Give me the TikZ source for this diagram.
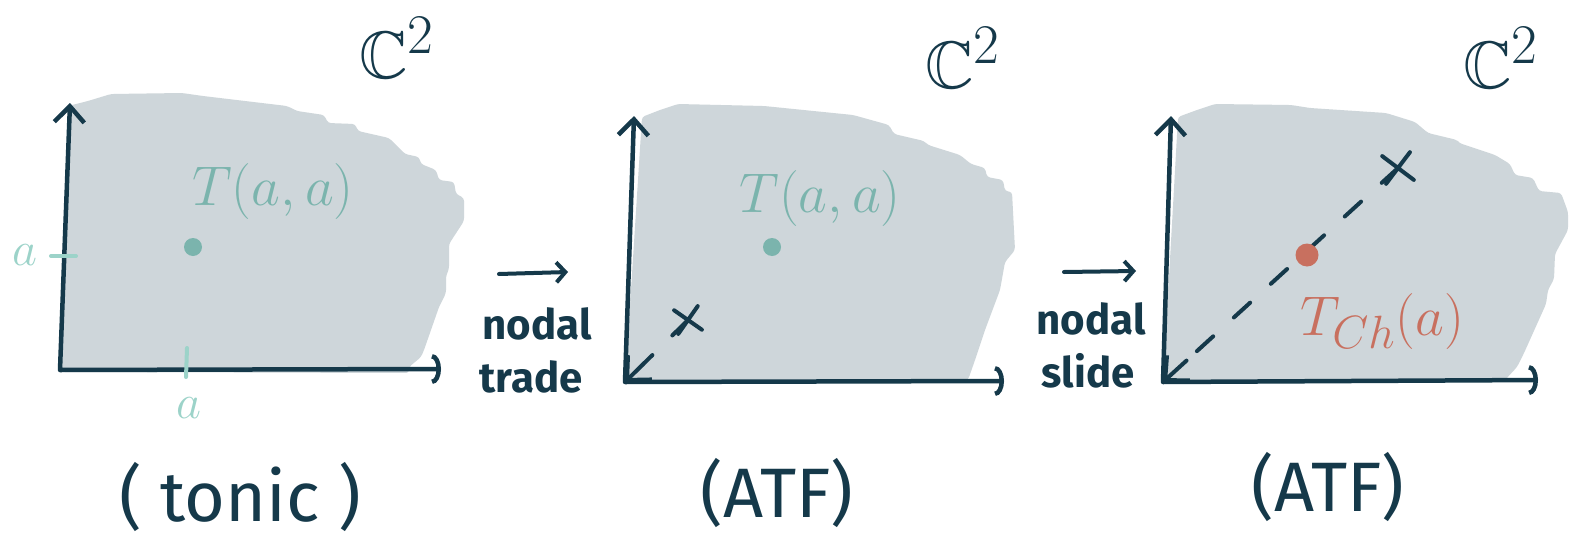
\documentclass[tikz,border=0pt]{standalone}
\usepackage{amssymb}
\usepackage{fontspec}
\setmainfont{Fira Sans}
\usetikzlibrary{arrows.meta,shapes.misc}
\definecolor{navy}{HTML}{15394A}
\definecolor{blobgrey}{HTML}{CED6DA}
\definecolor{tealtext}{HTML}{7BB4AD}
\definecolor{lightteal}{HTML}{9CD3C9}
\definecolor{redpt}{HTML}{C8705F}
\newcommand{\bigmath}[2]{\scalebox{#1}{\Huge$#2$}}
\begin{document}
\begin{tikzpicture}[x=1pt,y=-1pt,
  blob/.style={fill=blobgrey,draw=none,rounded corners=3pt},
  axis/.style={draw=navy,line width=4.5pt,line cap=round,line join=round,
    {Straight Barb[length=16pt,width=30pt]}-{Arc Barb[length=9pt,width=30pt]}},
  maparrow/.style={draw=navy,line width=4pt,line cap=round,-{Straight Barb[length=9pt,width=20pt]}},
  dashline/.style={draw=navy,line width=4pt,line cap=round,dash pattern=on 22pt off 28pt},
  tipline/.style={draw=navy,line width=4pt,line cap=round,-{Straight Barb[length=18pt,width=34pt]}},
  xmark/.style={draw=navy,cross out,line width=4pt,minimum size=20pt,inner sep=0pt,line cap=round},
  tealmath/.style={text=tealtext,inner sep=0pt},
  ticklabel/.style={text=lightteal,inner sep=0pt},
  tick/.style={draw=lightteal,line width=4pt,line cap=round},
  tdot/.style={circle,fill=tealtext,minimum size=18pt,inner sep=0pt},
  handword/.style={text=navy,inner sep=0pt,font=\fontsize{42}{44}\selectfont\bfseries},
  biglabel/.style={text=navy,inner sep=0pt,font=\fontsize{70}{72}\selectfont},
  cspace/.style={text=navy,inner sep=0pt}
]
\useasboundingbox[fill=white] (0,0) rectangle (1571,554);

% ---------- grey regions ----------
\fill[blob] (62,372) -- (68,106) -- (88,101) -- (111,94) -- (182,93) -- (203,96) -- (287,106)
  -- (297,111) -- (324,115) -- (328,123) -- (355,124) -- (358,131) -- (389,138) -- (405,154)
  -- (419,157) -- (421,164) -- (436,170) -- (439,180) -- (454,182) -- (456,194) -- (464,198)
  -- (464,221) -- (449,244) -- (449,269) -- (446,276) -- (446,293) -- (439,307) -- (424,350)
  -- (421,357) -- (409,367) -- (409,373) -- cycle;
\fill[blob] (625,384) -- (642,117) -- (660,110) -- (678,104) -- (764,106) -- (853,115) -- (889,125)
  -- (894,134) -- (924,141) -- (928,145) -- (960,155) -- (971,164) -- (985,168) -- (987,177)
  -- (1003,180) -- (1005,191) -- (1012,192) -- (1015,250) -- (1005,262) -- (1000,290)
  -- (985,330) -- (975,360) -- (968,380) -- cycle;
\fill[blob] (1163,384) -- (1178,117) -- (1197,110) -- (1215,104) -- (1291,105) -- (1310,108)
  -- (1386,113) -- (1415,122) -- (1428,133) -- (1457,140) -- (1459,143) -- (1495,155)
  -- (1510,164) -- (1515,175) -- (1533,178) -- (1539,191) -- (1561,193) -- (1568,212)
  -- (1568,230) -- (1555,254) -- (1554,279) -- (1548,290) -- (1546,304) -- (1524,353)
  -- (1517,367) -- (1505,380) -- cycle;

% ---------- panel 1 (toric) ----------
\coordinate (o1) at (60,370);
\coordinate (y1) at (70,103);
\coordinate (x1) at (441,369);
\draw[axis] (y1) -- (o1) -- (x1);
\coordinate (ty1a) at (51,256);
\coordinate (ty1b) at (76,256);
\draw[tick] (ty1a) -- (ty1b);
\coordinate (tx1a) at (187,348);
\coordinate (tx1b) at (186,377);
\draw[tick] (tx1a) -- (tx1b);
\node[ticklabel] (ay1) at (25,255) {\bigmath{1.95}{a}};
\node[ticklabel] (ax1) at (189,408) {\bigmath{1.95}{a}};
\node[tealmath] (t1) at (273,192) {\bigmath{2.25}{T(a,a)}};
\node[tdot] (d1) at (193,247) {};
\node[cspace] (c1) at (397,48) {\bigmath{2.7}{\mathbb{C}^2}};
\node[biglabel] (l1) at (240,497) {( tonic )};

% ---------- arrow 1 ----------
\coordinate (m1s) at (499,274);
\coordinate (m1e) at (568,272);
\draw[maparrow] (m1s) -- (m1e);
\node[handword,anchor=base] (nodal1) at (537,339) {nodal};
\node[handword,anchor=base] (trade1) at (531,392) {trade};

% ---------- panel 2 (ATF) ----------
\coordinate (o2) at (625,382);
\coordinate (y2) at (634,116);
\coordinate (x2) at (1004,381);
\draw[axis] (y2) -- (o2) -- (x2);
\node[tealmath] (t2) at (820,199) {\bigmath{2.25}{T(a,a)}};
\node[tdot] (d2) at (772,247) {};
\node[xmark,rotate=10] (xm2) at (688,320) {};
\path (o2) -- (xm2.center) coordinate[pos=0.28] (h2);
\draw[dashline] (xm2.center) -- (h2);
\draw[tipline] (h2) -- (o2);
\node[cspace] (c2) at (963,58) {\bigmath{2.7}{\mathbb{C}^2}};
\node[biglabel] (l2) at (777,493) {(ATF)};

% ---------- arrow 2 ----------
\coordinate (m2s) at (1064,272);
\coordinate (m2e) at (1136,271);
\draw[maparrow] (m2s) -- (m2e);
\node[handword,anchor=base] (nodal2) at (1091,334) {nodal};
\node[handword,anchor=base] (slide2) at (1088,387) {slide};

% ---------- panel 3 (ATF) ----------
\coordinate (o3) at (1163,382);
\coordinate (y3) at (1171,116);
\coordinate (x3) at (1538,380);
\draw[axis] (y3) -- (o3) -- (x3);
\node[xmark,minimum size=24pt,rotate=8] (xm3) at (1398,168) {};
\path (o3) -- (xm3.center) coordinate[pos=0.1] (h3);
\draw[dashline] (xm3.center) -- (h3);
\draw[tipline] (h3) -- (o3);
\node[circle,fill=redpt,minimum size=23pt,inner sep=0pt] (r3) at (1307,255) {};
\node[text=redpt,inner sep=0pt,anchor=base west] (tch) at (1300,335) {\bigmath{2.25}{T_{Ch}(a)}};
\node[cspace] (c3) at (1501,58) {\bigmath{2.7}{\mathbb{C}^2}};
\node[biglabel] (l3) at (1328,487) {(ATF)};
\end{tikzpicture}
\end{document}
